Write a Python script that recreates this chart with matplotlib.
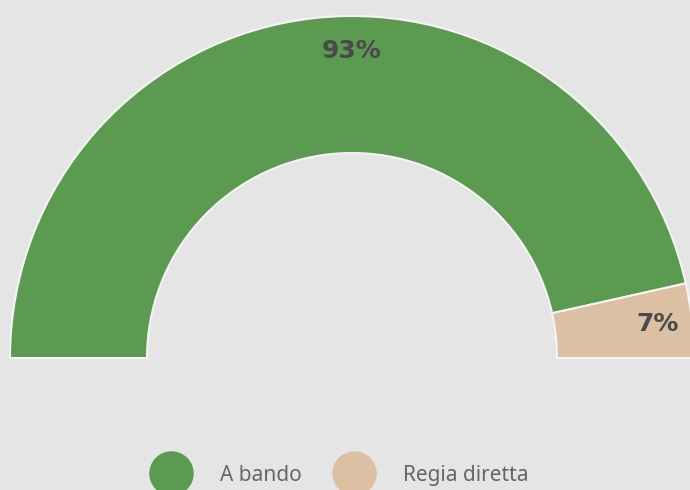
import numpy as np
import matplotlib.pyplot as plt
from matplotlib.patches import Wedge
from matplotlib.lines import Line2D

# Data
categories = ['A bando', 'Regia diretta']
values = [93, 7]
labels = ['93%', '7%']
colors = ['#5c9a52', '#dbc0a3']

bg = '#e5e5e5'
W, H = 690, 490
cx, cy = 352, 490 - 358   # pie centre in pixel coordinates (y up)
r_out, r_in = 342, 205

plt.rcParams['font.family'] = ['Noto Sans', 'DejaVu Sans']

fig = plt.figure(figsize=(6.9, 4.9), dpi=100, facecolor=bg)
ax = fig.add_axes([0, 0, 1, 1])
ax.set_facecolor(bg)
ax.set_xlim(0, W)
ax.set_ylim(0, H)
ax.axis('off')

# semi donut from 180 deg (left) clockwise to 0 deg (right)
total = sum(values)
start = 180.0
for val, col, lab in zip(values, colors, labels):
    span = 180.0 * val / total
    end = start - span
    ax.add_patch(Wedge((cx, cy), r_out, end, start, width=r_out - r_in,
                       facecolor=col, edgecolor='#f4f4f4', linewidth=1.5))
    mid = (start + end) / 2
    # big slice spanning the top gets its label centred on top
    if end < 90 < start and span > 90:
        mid = 90
    rad = np.deg2rad(mid)
    rl = 307
    ax.text(cx + rl * np.cos(rad), cy + rl * np.sin(rad), lab,
            ha='center', va='center', fontsize=18, fontweight='bold',
            family=['DejaVu Sans'], color='#4a4a4a')
    start = end

handles = [Line2D([], [], marker='o', linestyle='none', markersize=31,
                  markerfacecolor=c, markeredgecolor=c) for c in colors]
leg = ax.legend(handles, categories, loc='center', bbox_to_anchor=(0.495, 15 / H),
                ncol=2, frameon=False, fontsize=15, labelcolor='#666666',
                handletextpad=1.55, columnspacing=1.7, handlelength=1.6)
for t in leg.get_texts():
    t.set_fontweight('light')

fig.savefig('out.png', dpi=100, facecolor=bg)
